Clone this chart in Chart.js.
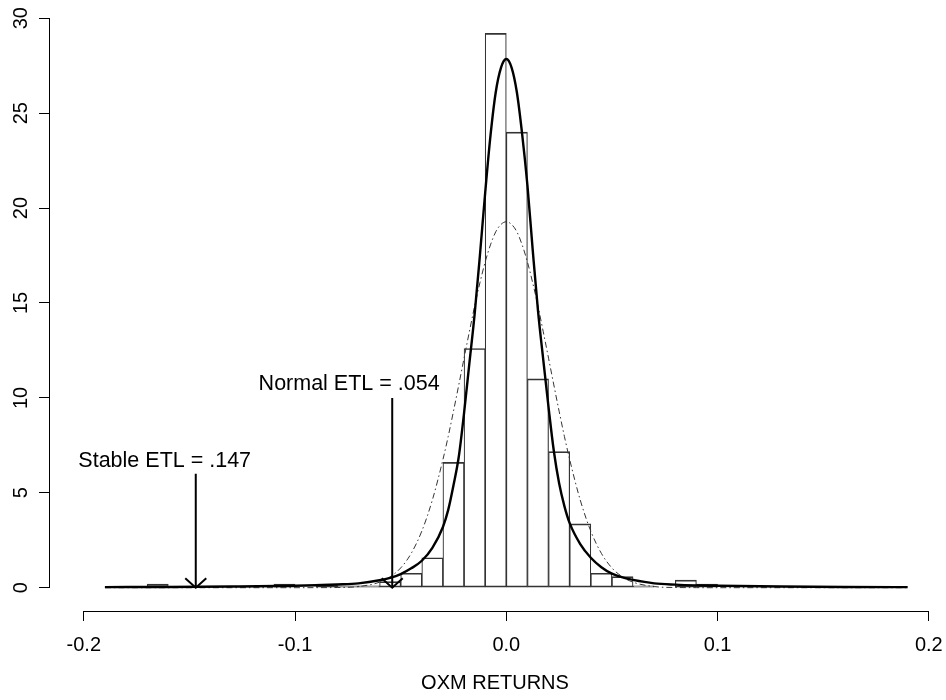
<!DOCTYPE html>
<html lang="en">
<head>
<meta charset="UTF-8">
<title>OXM Returns</title>
<script src="https://cdn.jsdelivr.net/npm/chart.js"></script>
<style>
  body { margin: 0; background: #fff; }
  #chart { display: block; }
</style>
</head>
<body>
<canvas id="chart" width="946" height="700"></canvas>
<script>
const FONT = '"Liberation Sans", Arial, Helvetica, sans-serif';

// axis ticks
const xTicks = [-0.2, -0.1, 0, 0.1, 0.2];
const xTickLabels = ['-0.2', '-0.1', '0.0', '0.1', '0.2'];
const yTicks = [0, 5, 10, 15, 20, 25, 30];

// histogram (bin mid points, width .01) and bar heights
const binMids = [-0.185, -0.175, -0.165, -0.155, -0.145, -0.135, -0.125, -0.115, -0.105, -0.095,
                 -0.085, -0.075, -0.065, -0.055, -0.045, -0.035, -0.025, -0.015, -0.005,
                 0.005, 0.015, 0.025, 0.035, 0.045, 0.055, 0.065, 0.075, 0.085, 0.095,
                 0.105, 0.115, 0.125, 0.135, 0.145, 0.155, 0.165, 0.175, 0.185];
const binHeights = [0, 0, 0.19, 0, 0, 0, 0, 0, 0.19, 0,
                    0.19, 0.1, 0.1, 0.32, 0.76, 1.58, 6.6, 12.6, 29.2,
                    24.0, 11.0, 7.17, 3.36, 0.76, 0.58, 0.1, 0, 0.4, 0.19,
                    0, 0, 0, 0, 0, 0, 0, 0, 0];

// fitted densities
const curveX = [-0.19, -0.16, -0.13, -0.1, -0.09, -0.08, -0.07, -0.06, -0.055, -0.05, -0.045, -0.04,
                -0.035, -0.03, -0.0275, -0.025, -0.0225, -0.02, -0.0175, -0.015, -0.0125, -0.01,
                -0.0075, -0.005, -0.0025, 0, 0.0025, 0.005, 0.0075, 0.01, 0.0125, 0.015, 0.0175,
                0.02, 0.0225, 0.025, 0.0275, 0.03, 0.035, 0.04, 0.045, 0.05, 0.055, 0.06, 0.07,
                0.08, 0.09, 0.1, 0.13, 0.16, 0.19];
const stableDensity = [0.03, 0.04, 0.06, 0.1, 0.13, 0.17, 0.23, 0.39, 0.52, 0.72, 1.02, 1.42,
                       2.1, 3.2, 4.1, 5.4, 6.9, 9.2, 11.8, 14.4, 17.5, 20.8,
                       23.8, 26.1, 27.4, 27.85, 27.4, 26.1, 23.9, 21.2, 17.8, 14.6, 12.0,
                       9.5, 7.2, 5.5, 4.3, 3.4, 2.3, 1.58, 1.08, 0.74, 0.54, 0.41, 0.23,
                       0.16, 0.12, 0.1, 0.06, 0.04, 0.03];
const normalDensity = [0, 0, 0, 0, 0.002, 0.01, 0.06, 0.29, 0.57, 1.04, 1.81, 2.98,
                       4.62, 6.75, 7.97, 9.3, 10.68, 12.09, 13.48, 14.83, 16.06, 17.16,
                       18.06, 18.75, 19.14, 19.28, 19.14, 18.75, 18.06, 17.16, 16.06, 14.83, 13.48,
                       12.09, 10.68, 9.3, 7.97, 6.75, 4.62, 2.98, 1.81, 1.04, 0.57, 0.29, 0.06,
                       0.01, 0.002, 0, 0, 0, 0];

// expected tail loss markers
const etlLabels = ['Stable ETL = .147', 'Normal ETL = .054'];
const etlValues = [0.147, 0.054];
const etlArrowTop = [6, 10];

const pts = (xs, ys) => xs.map((x, i) => ({ x: x, y: ys[i] }));

// label anchors (data coords): centre x, baseline y
const labelPos = [{ x: -0.1617, y: 6.38 }, { x: -0.0744, y: 10.42 }];

const rStyle = {
    id: 'rStyle',
    afterDraw(chart) {
        const { ctx, chartArea, scales: { x, y } } = chart;
        ctx.save();
        ctx.strokeStyle = '#000';
        ctx.lineWidth = 1;
        // axis lines only span first..last tick, like R
        ctx.beginPath();
        ctx.moveTo(x.getPixelForValue(xTicks[0]), Math.round(chartArea.bottom) + 0.5);
        ctx.lineTo(x.getPixelForValue(xTicks[xTicks.length - 1]), Math.round(chartArea.bottom) + 0.5);
        ctx.moveTo(Math.round(chartArea.left) - 0.5, y.getPixelForValue(yTicks[0]));
        ctx.lineTo(Math.round(chartArea.left) - 0.5, y.getPixelForValue(yTicks[yTicks.length - 1]));
        ctx.stroke();

        // arrow heads + labels
        ctx.lineWidth = 2;
        ctx.fillStyle = '#000';
        ctx.font = '21.5px ' + FONT;
        ctx.textAlign = 'center';
        ctx.textBaseline = 'alphabetic';
        etlValues.forEach((v, i) => {
            const px = x.getPixelForValue(-v);
            const py = y.getPixelForValue(0);
            ctx.beginPath();
            ctx.moveTo(px - 10.5, py - 9.5);
            ctx.lineTo(px, py);
            ctx.lineTo(px + 10.5, py - 9.5);
            ctx.stroke();
            ctx.fillText(etlLabels[i], x.getPixelForValue(labelPos[i].x), y.getPixelForValue(labelPos[i].y));
        });
        ctx.restore();
    }
};

const datasets = [
    {
        type: 'line', label: 'Stable', data: pts(curveX, stableDensity),
        borderColor: '#000', borderWidth: 2.4, pointRadius: 0,
        cubicInterpolationMode: 'monotone', order: 1
    },
    {
        type: 'line', label: 'Normal', data: pts(curveX, normalDensity),
        borderColor: '#333', borderWidth: 1, borderDash: [6, 3, 1.5, 3], pointRadius: 0,
        cubicInterpolationMode: 'monotone', order: 2
    },
    {
        type: 'bar', label: 'Histogram', data: pts(binMids, binHeights),
        backgroundColor: 'rgba(0,0,0,0)', borderColor: '#333',
        borderWidth: { left: 0.5, right: 0.5, top: 1, bottom: 1 }, borderSkipped: false,
        barPercentage: 1, categoryPercentage: 1, grouped: false, order: 3
    }
];
etlValues.forEach((v, i) => {
    datasets.push({
        type: 'line', label: etlLabels[i],
        data: [{ x: -v, y: etlArrowTop[i] }, { x: -v, y: 0 }],
        borderColor: '#000', borderWidth: 2, pointRadius: 0, order: 0
    });
});

new Chart(document.getElementById('chart'), {
    type: 'bar',
    data: { datasets: datasets },
    plugins: [rStyle],
    options: {
        responsive: false,
        animation: false,
        layout: { padding: { top: 8, right: 6, left: 0, bottom: 0 } },
        plugins: { legend: { display: false }, tooltip: { enabled: false } },
        scales: {
            x: {
                type: 'linear', min: -0.216, max: 0.2053, offset: false,
                afterBuildTicks: s => { s.ticks = xTicks.map(v => ({ value: v })); },
                afterFit: s => { s.height = 89; s.paddingLeft = 0; s.paddingRight = 0; },
                ticks: {
                    callback: (v, i) => xTickLabels[i], color: '#000',
                    font: { family: FONT, size: 20 }, padding: 12,
                    minRotation: 0, maxRotation: 0, autoSkip: false
                },
                grid: { offset: false, drawOnChartArea: false, drawTicks: true, tickLength: 10, color: '#000' },
                border: { display: false },
                title: {
                    display: true, text: 'OXM RETURNS', color: '#000',
                    font: { family: FONT, size: 20 }, padding: { top: 0, bottom: 5 }
                }
            },
            y: {
                type: 'linear', min: -1.2276, max: 30.54,
                afterBuildTicks: s => { s.ticks = yTicks.map(v => ({ value: v })); },
                afterFit: s => { s.width = 50; s.paddingTop = 0; s.paddingBottom = 0; },
                ticks: {
                    color: '#000', font: { family: FONT, size: 20 },
                    minRotation: 90, maxRotation: 90, crossAlign: 'center', padding: 6, autoSkip: false
                },
                grid: { offset: false, drawOnChartArea: false, drawTicks: true, tickLength: 11, color: '#000' },
                border: { display: false }
            }
        }
    }
});
</script>
</body>
</html>
